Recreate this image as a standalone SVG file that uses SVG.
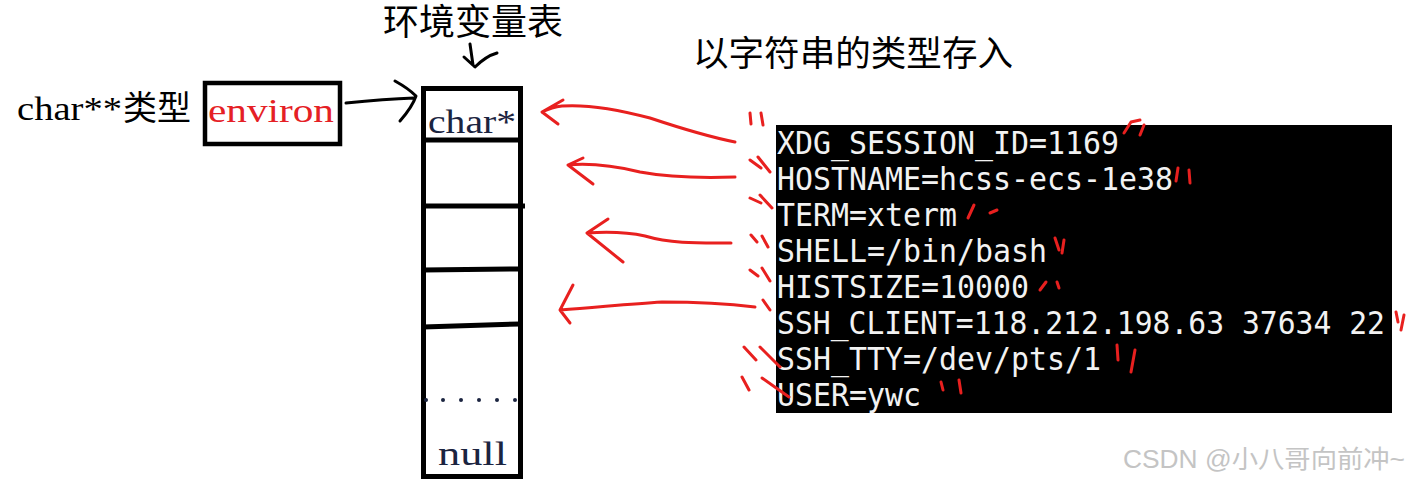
<svg xmlns="http://www.w3.org/2000/svg" width="1410" height="483" viewBox="0 0 1410 483">
<style>
.serif{font-family:"Liberation Serif","Noto Sans CJK SC",serif;}
.cjk{font-family:"Noto Sans CJK SC",sans-serif;}
.term{font-family:"DejaVu Sans Mono","Liberation Mono",monospace;font-size:32px;fill:#f2f2f2;}
.red{fill:none;stroke:#e8201f;stroke-width:3;stroke-linecap:round;stroke-linejoin:round;}
.blk{fill:none;stroke:#000;stroke-width:3;stroke-linecap:round;stroke-linejoin:round;}
.box{fill:#fff;stroke:#000;stroke-width:5;}
</style>
<rect width="1410" height="483" fill="#fff"/>

<g id="title">
  <text class="cjk" x="383" y="35" font-size="36" fill="#000">环境变量表</text>
</g>
<g id="caption">
  <text class="cjk" x="693" y="66" font-size="35" fill="#000" textLength="320" lengthAdjust="spacingAndGlyphs">以字符串的类型存入</text>
</g>
<g id="type-label">
  <text class="serif" x="17" y="120" font-size="33" fill="#000" textLength="105" lengthAdjust="spacingAndGlyphs">char**</text>
  <text class="cjk" x="123" y="120" font-size="34" fill="#000">类型</text>
</g>
<g id="environ">
  <rect x="205" y="83" width="135" height="61" fill="#fff" stroke="#000" stroke-width="4.5"/>
  <text class="serif" x="208" y="122" font-size="33" fill="#e52025" textLength="126" lengthAdjust="spacingAndGlyphs">environ</text>
</g>
<g id="table">
  <rect class="box" x="423.5" y="88.5" width="97" height="388"/>
  <path d="M423,140 L520,140 M423,206 L525,206 M423,270 L520,269 M423,327 L520,324" stroke="#000" stroke-width="5" fill="none"/>
  <text class="serif" x="428" y="133" font-size="33" fill="#1b2440" textLength="88" lengthAdjust="spacingAndGlyphs">char*</text>
  <g fill="#1b2440">
    <circle cx="426" cy="400" r="2"/><circle cx="443" cy="400" r="2"/><circle cx="461" cy="400" r="2"/>
    <circle cx="479" cy="400" r="2"/><circle cx="497" cy="400" r="2"/><circle cx="515" cy="400" r="2"/>
  </g>
  <text class="serif" x="438" y="465" font-size="33" fill="#1b2440" textLength="69" lengthAdjust="spacingAndGlyphs">null</text>
</g>
<g id="terminal">
  <rect x="776" y="125" width="616" height="288" fill="#000"/>
  <text class="term" x="777" y="154" textLength="342" lengthAdjust="spacingAndGlyphs">XDG_SESSION_ID=1169</text>
  <text class="term" x="777" y="190" textLength="396" lengthAdjust="spacingAndGlyphs">HOSTNAME=hcss-ecs-1e38</text>
  <text class="term" x="777" y="226" textLength="180" lengthAdjust="spacingAndGlyphs">TERM=xterm</text>
  <text class="term" x="777" y="262" textLength="270" lengthAdjust="spacingAndGlyphs">SHELL=/bin/bash</text>
  <text class="term" x="777" y="298" textLength="252" lengthAdjust="spacingAndGlyphs">HISTSIZE=10000</text>
  <text class="term" x="777" y="334" textLength="608" lengthAdjust="spacingAndGlyphs">SSH_CLIENT=118.212.198.63 37634 22</text>
  <text class="term" x="777" y="370" textLength="324" lengthAdjust="spacingAndGlyphs">SSH_TTY=/dev/pts/1</text>
  <text class="term" x="777" y="406" textLength="144" lengthAdjust="spacingAndGlyphs">USER=ywc</text>
</g>
<g id="connectors">
  <path class="blk" d="M346,103 C366,101 388,99 414,98 M395,81 C404,86 411,91 416,96 C413,105 407,113 400,121"/>
  <path class="blk" d="M470,44 L473,65 M464,57 L475,67 C482,60 490,55 497,53"/>
  <path class="red" d="M735,142 C705,136 680,128 650,118 C620,110 590,104 562,106 C552,107 546,110 542,112 M563,100 L542,112 L558,124"/>
  <path class="red" d="M735,177 C705,178 672,178 640,172 C615,166 590,163 568,165 M583,158 L568,165 L593,184"/>
  <path class="red" d="M731,243 C700,243 672,244 645,236 C622,231 602,232 587,233 M608,219 L587,233 L623,262"/>
  <path class="red" d="M755,307 C722,303 692,302 662,302 C630,304 600,307 560,310 M573,285 L560,310 L570,323"/>
</g>
<g id="marks">
  <path class="red" d="M750,113 L751,124 M761,113 L763,125"/>
  <path class="red" d="M1124,133 L1131,122 L1140,120 M1144,125 L1140,135"/>
  <path class="red" d="M750,160 L761,168 M758,157 L770,172"/>
  <path class="red" d="M1178,168 L1176,181 M1189,170 L1190,183"/>
  <path class="red" d="M750,198 L761,203 M760,195 L772,208"/>
  <path class="red" d="M968,218 L974,205 M990,213 L997,210"/>
  <path class="red" d="M751,235 L757,242 M762,236 L768,247"/>
  <path class="red" d="M1055,238 L1059,250 M1064,240 L1062,253"/>
  <path class="red" d="M750,270 L758,276 M762,268 L770,281"/>
  <path class="red" d="M1040,290 L1046,282 M1057,282 L1059,288"/>
  <path class="red" d="M763,300 L770,310"/>
  <path class="red" d="M1396,312 L1398,322 M1404,315 L1401,330"/>
  <path class="red" d="M744,347 L756,360 M760,347 L780,367"/>
  <path class="red" d="M1117,345 L1118,360 M1135,350 L1131,372"/>
  <path class="red" d="M742,377 L749,390 M762,378 L789,397"/>
  <path class="red" d="M941,382 L943,390 M959,380 L961,393"/>
</g>
<g id="watermark">
  <text x="1123" y="468" font-family="Liberation Sans, Noto Sans CJK SC, sans-serif" font-size="25" fill="#c4c4c4" textLength="282" lengthAdjust="spacingAndGlyphs">CSDN @小八哥向前冲~</text>
</g>
</svg>
